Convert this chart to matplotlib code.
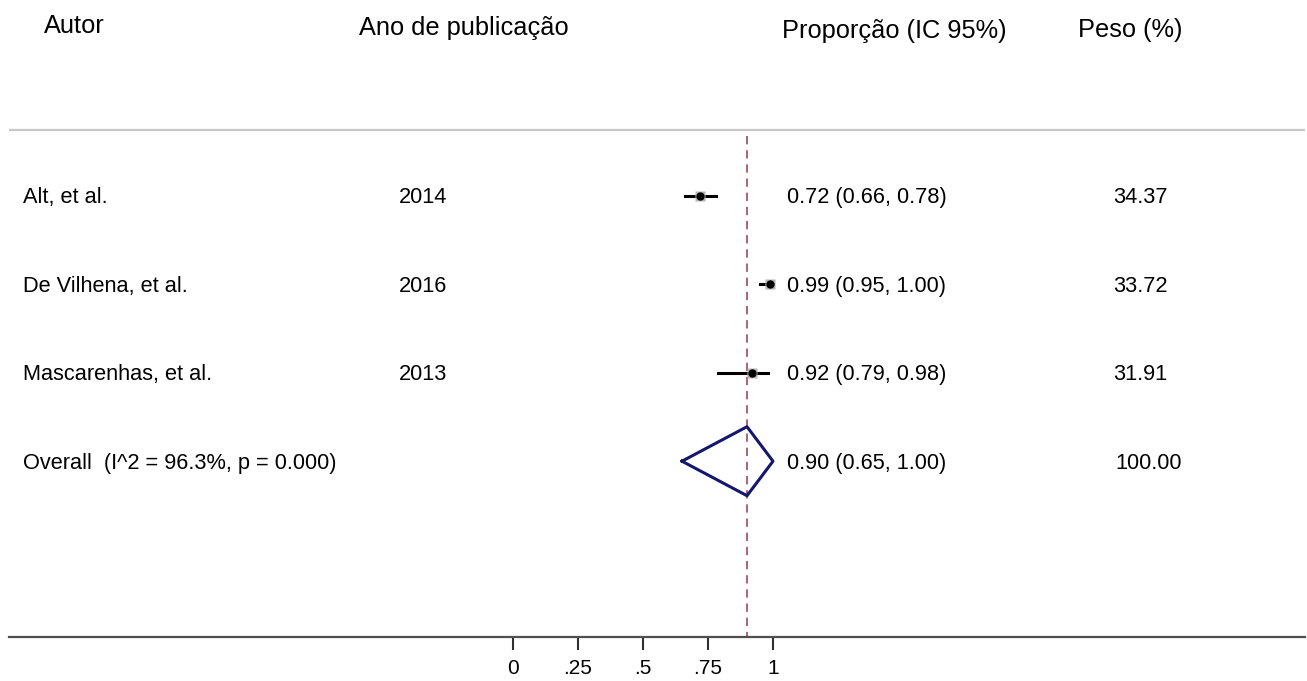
import matplotlib
matplotlib.use("Agg")
import matplotlib.pyplot as plt

plt.rcParams['font.family'] = ['Liberation Sans', 'DejaVu Sans']

# dados
autores = ['Alt, et al.', 'De Vilhena, et al.', 'Mascarenhas, et al.']
anos = ['2014', '2016', '2013']
prop = [0.72, 0.99, 0.92]
ic_lo = [0.66, 0.95, 0.79]
ic_hi = [0.78, 1.00, 0.98]
pesos = [34.37, 33.72, 31.91]

overall_label = 'Overall  (I^2 = 96.3%, p = 0.000)'
overall_est = 0.90
overall_lo = 0.65
overall_hi = 1.00
overall_peso = 100.00

xticks = [0, 0.25, 0.5, 0.75, 1]
xticklabels = ['0', '.25', '.5', '.75', '1']

# layout (pixels)
W, H = 1307, 681
X0, PX_UNIT = 513, 260          # x=0 at 513 px, 260 px per unit
ROW0, ROW_STEP = 196, 88.4      # first row centre, row spacing
AX_L, AX_R, AX_BOT = 9, 1305, 637


def px2x(p):
    return (p - X0) / PX_UNIT


def px2y(p):
    return (p - ROW0) / ROW_STEP


fig = plt.figure(figsize=(W / 100, H / 100), dpi=100)
ax = fig.add_axes([AX_L / W, (H - AX_BOT) / H, (AX_R - AX_L) / W, AX_BOT / H])
ax.set_xlim(px2x(AX_L), px2x(AX_R))
ax.set_ylim(px2y(AX_BOT), px2y(0))

for s in ['top', 'left', 'right']:
    ax.spines[s].set_visible(False)
ax.spines['bottom'].set_color('#505050')
ax.spines['bottom'].set_linewidth(1.6)
ax.set_yticks([])
ax.set_xticks(xticks)
ax.set_xticklabels(xticklabels, fontsize=15)
ax.tick_params(axis='x', length=9, width=1.5, color='#303030', pad=7)

# cabecalho
hdr = dict(fontsize=18.3, va='baseline', ha='left')
ax.text(px2x(44), px2y(33), 'Autor', **hdr)
ax.text(px2x(359), px2y(35), 'Ano de publicação', **hdr)
ax.text(px2x(782), px2y(38), 'Proporção (IC 95%)', **hdr)
ax.text(px2x(1078), px2y(37), 'Peso (%)', **hdr)
ax.axhline(px2y(130), color='#c8c8c8', lw=1.6)

# linha do efeito global
ax.plot([overall_est, overall_est], [px2y(136), px2y(AX_BOT)], color='#9b4a5a',
        lw=1.2, dashes=(5, 3.5))

txt = dict(fontsize=15.7, va='baseline', ha='left')
base = 7.5 / ROW_STEP
for i in range(len(autores)):
    ax.plot([ic_lo[i], ic_hi[i]], [i, i], color='black', lw=2.2)
    ax.plot(prop[i], i, 's', color='#b4b4b4', ms=7.5, mec='none')
    ax.plot(prop[i], i, 'o', color='black', ms=5)
    ax.text(px2x(23), i + base, autores[i], **txt)
    ax.text(px2x(399), i + base, anos[i], **txt)
    ax.text(px2x(787), i + base, '%.2f (%.2f, %.2f)' % (prop[i], ic_lo[i], ic_hi[i]), **txt)
    ax.text(px2x(1113), i + base, '%.2f' % pesos[i], **txt)

# diamante
k = len(autores)
h = 34.5 / ROW_STEP
ax.plot([overall_lo, overall_est, overall_hi, overall_est, overall_lo],
        [k, k - h, k, k + h, k], color='#15166e', lw=2.2)
ax.text(px2x(23), k + base, overall_label, **txt)
ax.text(px2x(787), k + base, '%.2f (%.2f, %.2f)' % (overall_est, overall_lo, overall_hi), **txt)
ax.text(px2x(1115), k + base, '%.2f' % overall_peso, **txt)

fig.savefig('out.png', dpi=100)
